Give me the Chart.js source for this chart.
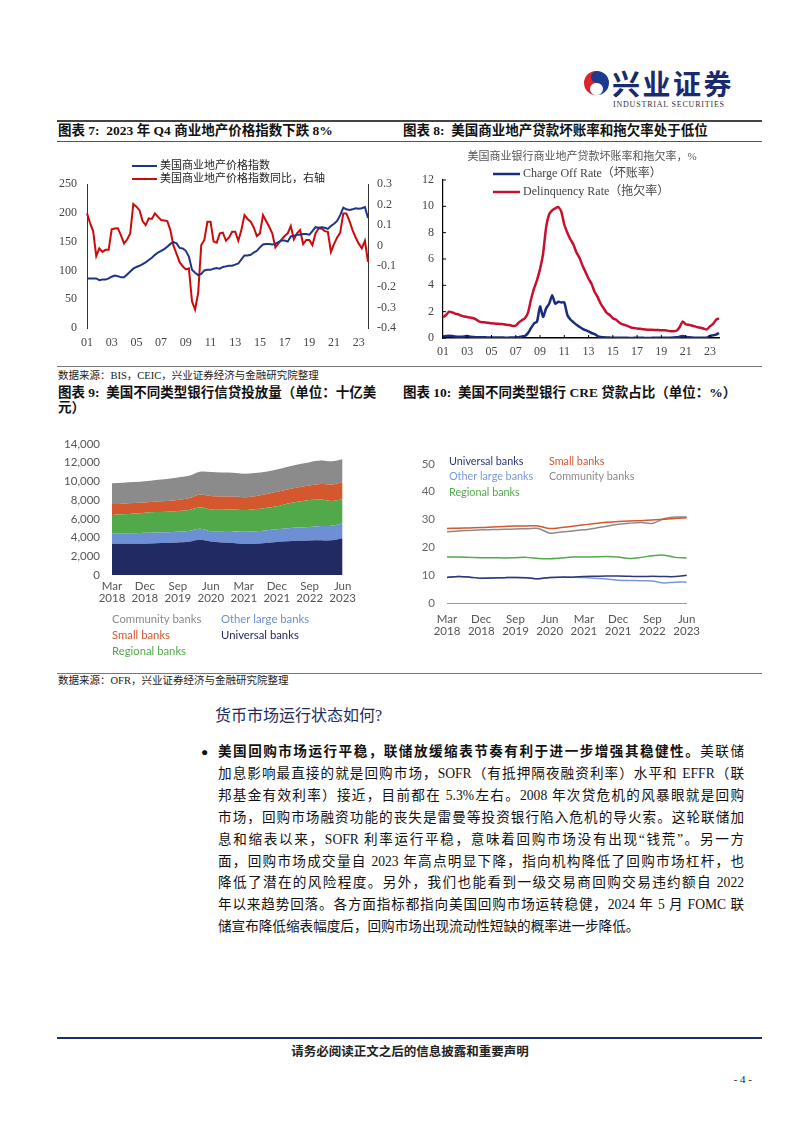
<!DOCTYPE html>
<html lang="zh-CN">
<head>
<meta charset="utf-8">
<script src="https://cdn.jsdelivr.net/npm/chart.js@4.4.1/dist/chart.umd.min.js"></script>
<style>
  body { margin:0; width:802px; height:1133px; background:#fff; position:relative; overflow:hidden;
         font-family:"Liberation Serif","Noto Sans CJK SC",serif; color:#111; }
  .hline { position:absolute; left:57px; width:705px; }
  .ttl { position:absolute; font-size:13.5px; font-weight:700; white-space:nowrap; line-height:16px; color:#111; }
  .src { position:absolute; left:58px; font-size:10.5px; white-space:nowrap; line-height:12px; color:#222; }
  .txt { position:absolute; left:218px; width:526px; font-size:13.6px; line-height:18px; white-space:nowrap;
         text-align:justify; text-align-last:justify; color:#111; }
  canvas { position:absolute; }
</style>
</head>
<body>

<!-- logo -->
<svg style="position:absolute;left:580px;top:66px" width="165" height="46">
  <path d="M16,5 A12,12 0 0 0 16,29 A6,6 0 0 1 16,17 A6,6 0 0 0 16,5 Z" fill="#d7262e"/>
  <path d="M17,5 A12,12 0 0 1 17,29 A6,6 0 0 0 17,17 A6,6 0 0 1 17,5 Z" fill="#1d3a8f"/>
  <text x="32" y="29" font-family="Noto Sans CJK SC" font-weight="700" font-size="28" fill="#1b2a6e" letter-spacing="2.5">兴业证券</text>
  <text x="33" y="41" font-family="Liberation Serif" font-size="8" fill="#333" letter-spacing="0.8">INDUSTRIAL SECURITIES</text>
</svg>

<div class="hline" style="top:120px;height:2px;background:#444"></div>
<div class="ttl" style="left:58px;top:123px">图表 7:&nbsp; 2023 年 Q4 商业地产价格指数下跌 8%</div>
<div class="ttl" style="left:403px;top:123px">图表 8:&nbsp; 美国商业地产贷款坏账率和拖欠率处于低位</div>
<div class="hline" style="top:141px;height:1px;background:#555"></div>

<canvas id="c7" width="345" height="214" style="left:57px;top:150px"></canvas>
<canvas id="c8" width="360" height="214" style="left:405px;top:150px"></canvas>

<div class="hline" style="top:366px;height:1px;background:#777"></div>
<div class="src" style="top:370px">数据来源：BIS，CEIC，兴业证券经济与金融研究院整理</div>
<div class="ttl" style="left:58px;top:385px">图表 9:&nbsp; 美国不同类型银行信贷投放量（单位：十亿美</div>
<div class="ttl" style="left:58px;top:400px">元）</div>
<div class="ttl" style="left:403px;top:385px">图表 10:&nbsp; 美国不同类型银行 CRE 贷款占比（单位：%）</div>

<canvas id="c9" width="305" height="240" style="left:57px;top:425px"></canvas>
<canvas id="c10" width="310" height="205" style="left:400px;top:445px"></canvas>

<div class="hline" style="top:673px;height:1px;background:#777"></div>
<div class="src" style="top:675px">数据来源：OFR，兴业证券经济与金融研究院整理</div>

<div style="position:absolute;left:215px;top:706px;font-size:16px;line-height:20px;color:#1f2d5c;white-space:nowrap">货币市场运行状态如何?</div>

<div style="position:absolute;left:201px;top:743px;font-size:12px;line-height:18px">●</div>
<div class="txt" style="top:743px"><b>美国回购市场运行平稳，联储放缓缩表节奏有利于进一步增强其稳健性。</b>美联储</div>
<div class="txt" style="top:765px">加息影响最直接的就是回购市场，SOFR（有抵押隔夜融资利率）水平和 EFFR（联</div>
<div class="txt" style="top:787px">邦基金有效利率）接近，目前都在 5.3%左右。2008 年次贷危机的风暴眼就是回购</div>
<div class="txt" style="top:809px">市场，回购市场融资功能的丧失是雷曼等投资银行陷入危机的导火索。这轮联储加</div>
<div class="txt" style="top:831px">息和缩表以来，SOFR 利率运行平稳，意味着回购市场没有出现“钱荒”。另一方</div>
<div class="txt" style="top:853px">面，回购市场成交量自 2023 年高点明显下降，指向机构降低了回购市场杠杆，也</div>
<div class="txt" style="top:874px">降低了潜在的风险程度。另外，我们也能看到一级交易商回购交易违约额自 2022</div>
<div class="txt" style="top:896px">年以来趋势回落。各方面指标都指向美国回购市场运转稳健，2024 年 5 月 FOMC 联</div>
<div class="txt" style="top:918px;text-align:left;text-align-last:left">储宣布降低缩表幅度后，回购市场出现流动性短缺的概率进一步降低。</div>

<div class="hline" style="top:1037px;height:2px;background:#1f2d6b"></div>
<div style="position:absolute;left:0;width:820px;top:1044px;text-align:center;font-size:12.5px;line-height:16px;font-weight:700;color:#222">请务必阅读正文之后的信息披露和重要声明</div>
<div style="position:absolute;left:700px;width:52px;top:1072px;text-align:right;font-size:11px;line-height:14px;color:#222">- 4 -</div>

<script>
// ---- chart 7 / 8: quarterly, 2001Q1 - 2023Q4 ----
const quarters = [];
for (let y = 2001; y <= 2023; y++) for (let q = 1; q <= 4; q++) quarters.push(y + 'Q' + q);
const yearTicks = ['01','03','05','07','09','11','13','15','17','19','21','23'];

const cpiIndex = [
  86, 86, 86, 86,   83, 84, 84, 86,   89, 91, 90, 88,   88, 93, 98, 103,
  106, 108, 111, 114,   118, 122, 127, 131,   134, 137, 141, 146,   149, 147, 139, 138,
  134, 124, 101, 96,   92, 94, 100, 101,   101, 103, 104, 103,   106, 107, 108, 108,
  110, 112, 119, 126,   126, 127, 131, 134,   140, 145, 146, 146,   145, 146, 149, 152,
  152, 150, 159, 160,   162, 162, 163, 163,   162, 168, 175, 174,   175, 174, 172, 177,
  181, 186, 196, 209,   206, 205, 206, 208,   207, 208, 210, 191
];
const cpiYoy = [
  0.157, 0.11, 0.07, -0.05,   -0.013, -0.03, -0.02, -0.02,   0.08, 0.084, 0.085, 0.05,
  0.011, 0.03, 0.06, 0.203,   0.19, 0.173, 0.12, 0.10,   0.133, 0.13, 0.157, 0.14,
  0.125, 0.123, 0.12, 0.076,   0.0, -0.04, -0.08, -0.10,   -0.115, -0.11, -0.27, -0.31,
  -0.23, 0.003, 0.028, 0.117,   0.117, 0.02, 0.015, 0.06,   0.063, 0.024, 0.04, 0.068,
  0.068, 0.024, 0.076, 0.149,   0.13, 0.117, 0.089, 0.047,   0.06, 0.149, 0.12, 0.092,
  0.06, -0.008, 0.011, 0.03,   0.047, 0.06, 0.096, 0.031,   0.06, 0.076, 0.008, 0.028,
  0.028, 0.003, 0.06, 0.084,   0.084, 0.071, 0.068, -0.03,   0.008, 0.04, 0.063, 0.157,
  0.157, 0.12, 0.076, 0.04,   0.01, -0.013, 0.024, -0.078
];
const chargeOff = [
  0.1, 0.15, 0.17, 0.15,   0.12, 0.1, 0.1, 0.12,   0.15, 0.1, 0.08, 0.06,   0.06, 0.05, 0.05, 0.04,
  0.04, 0.03, 0.03, 0.03,   0.03, 0.02, 0.03, 0.03,   0.04, 0.06, 0.12, 0.15,   0.37, 0.75, 1.1, 1.25,
  2.4, 1.6, 2.25, 2.6,   3.25, 2.6, 2.75, 2.7,   2.7, 1.75, 1.4, 1.2,   1.0, 0.85, 0.7, 0.6,
  0.5, 0.38, 0.3, 0.15,   0.08, 0.05, 0.04, 0.03,   0.02, 0.02, 0.01, 0.01,   0.01, 0.01, 0.0, 0.01,
  0.01, 0.01, 0.01, 0.0,   0.0, 0.01, 0.01, 0.01,   0.01, 0.02, 0.02, 0.02,   0.03, 0.05, 0.1, 0.15,
  0.1, 0.05, 0.03, 0.02,   0.02, 0.02, 0.02, 0.03,   0.15, 0.2, 0.25, 0.38
];
const delinquency = [
  1.58, 1.75, 2.0, 1.95,   1.85, 1.8, 1.7, 1.63,   1.6, 1.55, 1.5, 1.4,   1.25, 1.2, 1.18, 1.15,
  1.12, 1.1, 1.08, 1.06,   1.05, 1.0, 0.98, 0.92,   0.95, 1.18, 1.35, 1.5,   1.9, 2.9, 3.75, 4.4,
  5.25, 6.4, 8.4, 9.4,   9.7, 9.85, 9.95, 9.6,   8.6, 8.0, 7.5, 7.1,   6.5, 6.1, 5.5, 5.0,
  4.5, 4.1, 3.5, 3.1,   2.6, 2.25, 1.9, 1.75,   1.5, 1.4, 1.2, 1.05,   0.98, 0.9, 0.8, 0.76,
  0.72, 0.7, 0.66, 0.64,   0.62, 0.62, 0.6, 0.6,   0.58, 0.58, 0.56, 0.52,   0.52, 0.55, 0.82, 1.25,
  1.05, 1.0, 0.95, 0.88,   0.82, 0.78, 0.7, 0.65,   0.88, 1.05, 1.38, 1.5
];

// ---- chart 9 / 10: quarterly, Mar 2018 - Jun 2023 ----
const bankQuarters = [
  'Mar 2018','Jun 2018','Sep 2018','Dec 2018','Mar 2019','Jun 2019','Sep 2019','Dec 2019',
  'Mar 2020','Jun 2020','Sep 2020','Dec 2020','Mar 2021','Jun 2021','Sep 2021','Dec 2021',
  'Mar 2022','Jun 2022','Sep 2022','Dec 2022','Mar 2023','Jun 2023'
];
// credit volume, billions
const universalVol = [3350, 3340, 3330, 3350, 3400, 3420, 3480, 3550, 3760, 3590, 3480, 3420, 3310, 3340, 3420, 3520, 3600, 3650, 3690, 3720, 3700, 3930];
const otherLargeVol = [1090, 1110, 1140, 1160, 1150, 1140, 1130, 1140, 1190, 1090, 1200, 1260, 1300, 1320, 1340, 1360, 1390, 1410, 1430, 1500, 1560, 1600];
const regionalVol = [1980, 2030, 2100, 2150, 2180, 2200, 2220, 2250, 2290, 2320, 2300, 2310, 2320, 2350, 2400, 2460, 2650, 2800, 2900, 2850, 2650, 2560];
const smallVol = [1160, 1140, 1110, 1090, 1120, 1150, 1190, 1250, 1360, 1430, 1400, 1380, 1370, 1400, 1450, 1540, 1500, 1520, 1540, 1650, 1750, 1810];
const communityVol = [2220, 2230, 2240, 2250, 2300, 2350, 2390, 2400, 2430, 2570, 2560, 2540, 2520, 2480, 2420, 2390, 2420, 2460, 2490, 2500, 2480, 2460];
// CRE share, %
const universalCre = [9.2, 9.5, 9.3, 8.9, 9.0, 9.1, 9.2, 9.1, 8.7, 9.2, 9.3, 9.3, 9.5, 9.6, 9.7, 9.7, 9.6, 9.5, 9.6, 9.5, 9.5, 10.0];
const otherLargeCre = [9.2, 9.5, 9.3, 8.9, 9.0, 9.1, 9.2, 9.1, 8.7, 9.2, 9.3, 9.3, 9.2, 8.9, 8.6, 8.2, 8.1, 8.0, 7.9, 7.2, 7.5, 7.5];
const regionalCre = [16.5, 16.5, 16.4, 16.3, 16.3, 16.2, 16.3, 16.4, 16.0, 15.9, 16.2, 16.5, 16.5, 16.6, 16.7, 16.5, 16.0, 16.4, 17.0, 17.2, 16.4, 16.2];
const smallCre = [26.8, 26.9, 27.0, 27.1, 27.3, 27.5, 27.7, 27.7, 27.7, 26.8, 27.1, 27.6, 28.1, 28.6, 29.0, 29.3, 29.5, 29.6, 29.8, 30.1, 30.4, 30.6];
const communityCre = [25.6, 25.9, 26.1, 26.3, 26.4, 26.5, 26.6, 26.7, 26.8, 25.1, 25.5, 25.9, 26.3, 26.9, 27.6, 28.3, 28.7, 28.9, 28.6, 30.3, 30.9, 30.9];

const NAVY = '#222a63', LBLUE = '#6d8fd4', GREEN = '#52a94a', ORANGE = '#d4572d', GREY = '#8b8b8b';

// legend / title drawn at fixed spots on the canvas
const drawLegend = {
  id: 'drawLegend',
  afterDraw(chart, args, o) {
    const ctx = chart.ctx;
    ctx.save();
    ctx.textBaseline = 'middle';
    if (o.title) {
      ctx.font = o.titleFont;
      ctx.fillStyle = o.titleColor;
      ctx.textAlign = 'center';
      ctx.fillText(o.title, o.titleX, o.titleY);
    }
    ctx.font = o.font;
    ctx.textAlign = 'left';
    o.items.forEach(it => {
      const ds = chart.data.datasets[it.ds];
      const col = ds.legendColor;
      if (o.lineLen) {
        ctx.strokeStyle = col;
        ctx.lineWidth = o.lineWidth;
        ctx.beginPath();
        ctx.moveTo(it.x, it.y);
        ctx.lineTo(it.x + o.lineLen, it.y);
        ctx.stroke();
        ctx.fillStyle = o.textColor;
        ctx.fillText(ds.label, it.x + o.lineLen + 3, it.y);
      } else {
        ctx.fillStyle = col;
        ctx.fillText(ds.label, it.x, it.y);
      }
    });
    ctx.restore();
  }
};

// small inward tick marks (chart 8)
const innerTicks = {
  id: 'innerTicks',
  afterDraw(chart) {
    const ctx = chart.ctx, x = chart.scales.x, y = chart.scales.y, a = chart.chartArea;
    ctx.save();
    ctx.strokeStyle = '#000';
    ctx.lineWidth = 1;
    ctx.beginPath();
    y.ticks.forEach(t => { const py = y.getPixelForValue(t.value); ctx.moveTo(a.left, py); ctx.lineTo(a.left + 3, py); });
    quarters.forEach((q, i) => { if (i % 8 === 0) { const px = x.getPixelForValue(i); ctx.moveTo(px, a.bottom); ctx.lineTo(px, a.bottom - 3); } });
    ctx.stroke();
    ctx.restore();
  }
};

const serif = '"Liberation Serif", "Noto Sans CJK SC", serif';
const sans = 'Lato, "Noto Sans", sans-serif';
const noGrid = { display: false, drawTicks: false };

function quarterAxis(pad) {
  return {
    type: 'category', offset: false,
    grid: noGrid,
    ticks: {
      autoSkip: false, maxRotation: 0, padding: pad, color: '#444',
      font: { family: serif, size: 12 },
      callback: (v, i) => (i % 8 === 0 ? yearTicks[i / 8] : '')
    },
    afterFit: s => { s.height = 22; }
  };
}

// chart 7
new Chart(document.getElementById('c7'), {
  type: 'line',
  data: {
    labels: quarters,
    datasets: [
      { label: '美国商业地产价格指数', data: cpiIndex, yAxisID: 'y', borderColor: '#1c3586', legendColor: '#1c3586', borderWidth: 2, pointRadius: 0, tension: 0 },
      { label: '美国商业地产价格指数同比，右轴', data: cpiYoy, yAxisID: 'y1', borderColor: '#cc0a0a', legendColor: '#cc0a0a', borderWidth: 2, pointRadius: 0, tension: 0 }
    ]
  },
  options: {
    responsive: false, animation: false, devicePixelRatio: 1,
    layout: { padding: { top: 34, left: 0, right: 0, bottom: 14 } },
    plugins: {
      legend: { display: false }, tooltip: { enabled: false },
      drawLegend: {
        font: '11px ' + serif, textColor: '#222', lineLen: 25, lineWidth: 2,
        items: [{ ds: 0, x: 75, y: 16 }, { ds: 1, x: 75, y: 29 }]
      }
    },
    scales: {
      x: Object.assign(quarterAxis(8), { border: { display: false } }),
      y: {
        position: 'left', min: 0, max: 250,
        grid: noGrid, border: { color: '#333' },
        ticks: { stepSize: 50, padding: 10, color: '#444', font: { family: serif, size: 12 } },
        afterFit: s => { s.width = 30; }
      },
      y1: {
        position: 'right', min: -0.4, max: 0.3,
        grid: noGrid, border: { color: '#333' },
        ticks: { stepSize: 0.1, padding: 9, color: '#444', font: { family: serif, size: 12 },
          callback: v => String(Math.round(v * 10) / 10) },
        afterFit: s => { s.width = 34; }
      }
    }
  },
  plugins: [drawLegend]
});

// chart 8
new Chart(document.getElementById('c8'), {
  type: 'line',
  data: {
    labels: quarters,
    datasets: [
      { label: 'Charge Off Rate（坏账率）', data: chargeOff, borderColor: '#1a2d7c', legendColor: '#1a2d7c', borderWidth: 2.5, pointRadius: 0, tension: 0.2 },
      { label: 'Delinquency Rate（拖欠率）', data: delinquency, borderColor: '#c8102e', legendColor: '#c8102e', borderWidth: 2.5, pointRadius: 0, tension: 0.2 }
    ]
  },
  options: {
    responsive: false, animation: false, devicePixelRatio: 1,
    layout: { padding: { top: 30, left: 0, right: 46, bottom: 4 } },
    plugins: {
      legend: { display: false }, tooltip: { enabled: false },
      drawLegend: {
        title: '美国商业银行商业地产贷款坏账率和拖欠率，%', titleFont: '11px ' + serif, titleColor: '#555', titleX: 177, titleY: 7,
        font: '12px ' + serif, textColor: '#444', lineLen: 27, lineWidth: 2.5,
        items: [{ ds: 0, x: 88, y: 24 }, { ds: 1, x: 88, y: 42 }]
      }
    },
    scales: {
      x: Object.assign(quarterAxis(7), { border: { color: '#000', width: 1.5 } }),
      y: {
        min: 0, max: 12,
        grid: noGrid, border: { color: '#000', width: 1.2 },
        ticks: { stepSize: 2, padding: 9, color: '#444', font: { family: serif, size: 12 } },
        afterFit: s => { s.width = 38; }
      }
    }
  },
  plugins: [drawLegend, innerTicks]
});

function bankAxis(pad, lh) {
  return {
    type: 'category', offset: false,
    grid: noGrid,
    ticks: {
      autoSkip: false, maxRotation: 0, padding: pad, color: '#555',
      font: { family: sans, size: 11.5, lineHeight: lh },
      callback: (v, i) => (i % 3 === 0 ? bankQuarters[i].split(' ') : '')
    }
  };
}

// chart 9
const area = (label, data, col, fill) => ({
  label, data, fill, backgroundColor: col, borderColor: col, legendColor: col,
  borderWidth: 0, pointRadius: 0, tension: 0.35
});
new Chart(document.getElementById('c9'), {
  type: 'line',
  data: {
    labels: bankQuarters,
    datasets: [
      area('Universal banks', universalVol, NAVY, 'origin'),
      area('Other large banks', otherLargeVol, LBLUE, '-1'),
      area('Regional banks', regionalVol, GREEN, '-1'),
      area('Small banks', smallVol, ORANGE, '-1'),
      area('Community banks', communityVol, GREY, '-1')
    ]
  },
  options: {
    responsive: false, animation: false, devicePixelRatio: 1,
    layout: { padding: { top: 13, left: 0, right: 14, bottom: 55 } },
    plugins: {
      legend: { display: false }, tooltip: { enabled: false }, filler: { propagate: false },
      drawLegend: {
        font: '11.3px ' + sans,
        items: [
          { ds: 4, x: 55, y: 194 }, { ds: 1, x: 164, y: 194 },
          { ds: 3, x: 55, y: 210 }, { ds: 0, x: 164, y: 210 },
          { ds: 2, x: 55, y: 226 }
        ]
      }
    },
    scales: {
      x: Object.assign(bankAxis(6, 1.0), { border: { display: false }, afterFit: s => { s.height = 35; } }),
      y: {
        stacked: true, min: 0, max: 14000,
        grid: noGrid, border: { display: false },
        ticks: { stepSize: 2000, padding: 12, color: '#555', font: { family: sans, size: 11.5 },
          callback: v => v.toLocaleString('en-US') },
        afterFit: s => { s.width = 55; }
      }
    }
  },
  plugins: [drawLegend]
});

// chart 10
const line = (label, data, col) => ({
  label, data, borderColor: col, legendColor: col, borderWidth: 1.5, pointRadius: 0, tension: 0.3, fill: false
});
new Chart(document.getElementById('c10'), {
  type: 'line',
  data: {
    labels: bankQuarters,
    datasets: [
      line('Universal banks', universalCre, '#2c3878'),
      line('Other large banks', otherLargeCre, '#7b97d9'),
      line('Regional banks', regionalCre, GREEN),
      line('Small banks', smallCre, ORANGE),
      line('Community banks', communityCre, GREY)
    ]
  },
  options: {
    responsive: false, animation: false, devicePixelRatio: 1,
    layout: { padding: { top: 14, left: 0, right: 17, bottom: 10 } },
    plugins: {
      legend: { display: false }, tooltip: { enabled: false },
      drawLegend: {
        font: '10.8px ' + sans,
        items: [
          { ds: 0, x: 49, y: 17 }, { ds: 3, x: 149, y: 17 },
          { ds: 1, x: 49, y: 32 }, { ds: 4, x: 149, y: 32 },
          { ds: 2, x: 49, y: 48 }
        ]
      }
    },
    scales: {
      x: Object.assign(bankAxis(10, 1.05), {
        border: { color: '#999', width: 1 },
        afterFit: s => { s.height = 37; }
      }),
      y: {
        min: 0, max: 50,
        grid: noGrid, border: { display: false },
        ticks: { stepSize: 10, padding: 12, color: '#666', font: { family: sans, size: 11.5 } },
        afterFit: s => { s.width = 47; }
      }
    }
  },
  plugins: [drawLegend]
});
</script>
</body>
</html>
